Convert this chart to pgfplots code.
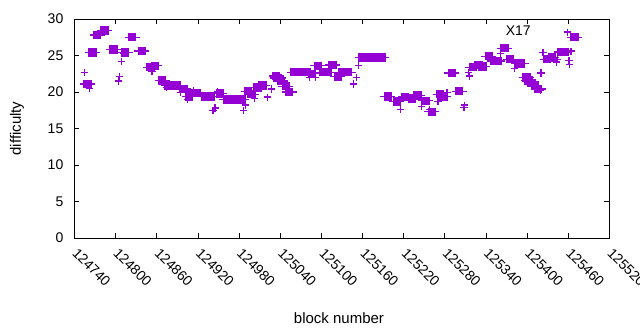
\documentclass[border=0pt]{standalone}
\usepackage{pgfplots}
\pgfplotsset{compat=1.18}
\usepackage{pgfplotstable}
\usepackage{fontspec}
\setmainfont{Liberation Sans}
\definecolor{dv}{HTML}{9400D3}
\pgfplotstableread{
x y
124759 21.1
124766 25.4
124773 27.8
124784 28.4
124797 25.8
124814 25.4
124824 27.5
124838 25.6
124851 23.4
124857 23.6
124868 21.6
124877 20.9
124883 20.9
124889 20.9
124899 20.4
124907 19.4
124912 19.9
124918 19.9
124930 19.4
124934 19.4
124939 19.4
124952 19.8
124962 19.0
124968 19.0
124975 19.0
124984 19.0
124993 20.1
124998 19.7
125007 20.6
125014 20.9
125034 22.2
125037 21.9
125041 21.5
125048 20.8
125053 20.0
125061 22.7
125066 22.7
125072 22.7
125078 22.7
125086 22.5
125095 23.6
125102 22.7
125110 22.7
125116 23.7
125124 22.1
125131 22.7
125139 22.7
125160 24.75
125166 24.75
125172 24.75
125177 24.75
125183 24.75
125188 24.75
125197 19.4
125210 18.7
125222 19.3
125232 19.1
125240 19.5
125252 18.8
125261 17.3
125273 19.7
125278 19.4
125290 22.6
125301 20.1
125321 23.4
125329 23.7
125335 23.5
125344 24.9
125352 24.25
125357 24.25
125367 26.0
125375 24.5
125387 23.9
125391 23.9
125399 22.0
125402 21.6
125406 21.2
125411 20.9
125416 20.4
125429 24.5
125436 24.75
125450 25.5
125455 25.5
125469 27.5
}\sqdata
\pgfplotstableread{
x y
124755 22.7
124762 20.5
124804 21.5
124806 22.1
124809 24.2
124811 25.3
124853 22.8
124874 20.6
124895 19.9
124905 19.0
124914 20.2
124942 17.5
124945 17.8
124948 20.0
124986 17.5
124989 18.2
125002 19.1
125021 19.3
125027 20.4
125030 21.9
125083 22.0
125091 22.0
125147 21.1
125151 22.0
125154 23.6
125215 17.6
125246 18.0
125258 17.6
125270 18.7
125283 19.9
125308 17.9
125309 18.2
125314 22.7
125316 22.2
125341 24.9
125361 25.3
125381 23.2
125419 20.2
125420 22.6
125423 25.4
125443 24.1
125444 24.5
125448 25.4
125459 28.2
125461 24.3
125462 23.8
125464 25.6
}\plusdata
\begin{document}
\begin{tikzpicture}
\path[use as bounding box] (-74.5pt,-92pt) rectangle (565.5pt,238pt);
\begin{axis}[
  at={(0pt,0pt)}, anchor=south west,
  scale only axis, width=535pt, height=219pt,
  xmin=124740, xmax=125520, ymin=0, ymax=30,
  scaled x ticks=false, scaled y ticks=false,
  axis line style={line width=0.9pt},
  tick style={black, line width=0.9pt},
  tick align=inside, tick pos=both, major tick length=5pt,
  xtick={124740,124800,124860,124920,124980,125040,125100,125160,125220,125280,125340,125400,125460,125520},
  xticklabels={124740,124800,124860,124920,124980,125040,125100,125160,125220,125280,125340,125400,125460,125520},
  ytick={0,5,10,15,20,25,30},
  /pgf/number format/assume math mode=true,
  tick label style={font=\fontsize{14}{16}\selectfont},
  xticklabel style={xshift=4pt, yshift=-9pt, rotate=-45, anchor=north west, inner sep=0pt},
  yticklabel style={anchor=east, inner sep=0pt, xshift=-11pt},
  xlabel={block number}, ylabel={difficulty},
  every axis x label/.style={at={(axis description cs:0.5,0)}, yshift=-80pt, xshift=-3pt, anchor=center, font=\fontsize{15}{17}\selectfont},
  every axis y label/.style={at={(axis description cs:0,0.5)}, xshift=-57.5pt, rotate=90, anchor=center, font=\fontsize{15}{17}\selectfont},
  clip=false,
]
\addplot[only marks, dv, mark=-, mark size=7.5pt, mark options={line width=1.3pt}] table[x=x,y=y] {\sqdata};
\addplot[only marks, dv, mark=square*, mark size=3.7pt, mark options={line width=0pt, fill=dv}] table[x=x,y=y] {\sqdata};
\addplot[only marks, dv, mark=+, mark size=3.6pt, mark options={line width=1.3pt}] table[x=x,y=y] {\plusdata};
\node[font=\fontsize{14}{16}\selectfont] at (axis cs:125387,28.4) {X17};
\end{axis}
\end{tikzpicture}
\end{document}
